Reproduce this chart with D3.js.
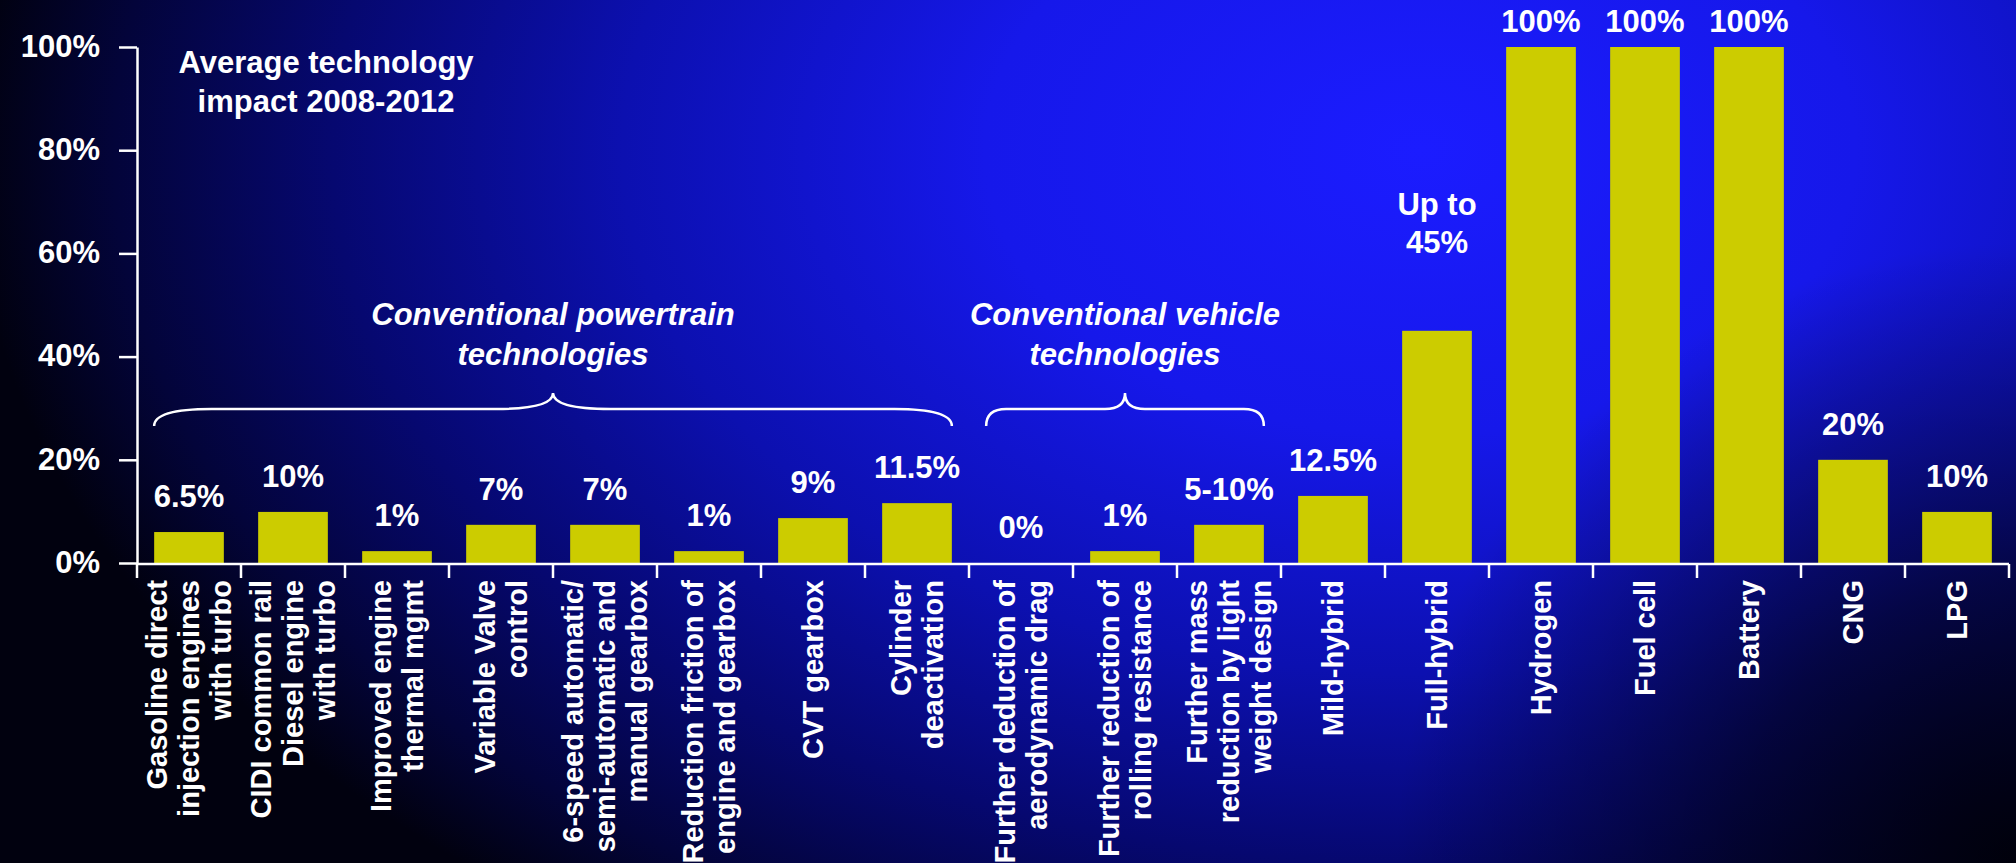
<!DOCTYPE html>
<html>
<head>
<meta charset="utf-8">
<script src="https://cdn.jsdelivr.net/npm/d3@7"></script>
<style>
    body { margin: 0; background: #000; }
    text { font-family: "Liberation Sans", Arial, sans-serif; font-weight: bold; fill: #fff; }
</style>
</head>
<body>
<div id="chart"></div>
<script>
// datos
const categoryLines = [
    ["Gasoline direct", "injection engines", "with turbo"],
    ["CIDI common rail", "Diesel engine", "with turbo"],
    ["Improved engine", "thermal mgmt"],
    ["Variable Valve", "control"],
    ["6-speed automatic/", "semi-automatic and", "manual gearbox"],
    ["Reduction friction of", "engine and gearbox"],
    ["CVT gearbox"],
    ["Cylinder", "deactivation"],
    ["Further deduction of", "aerodynamic drag"],
    ["Further reduction of", "rolling resistance"],
    ["Further mass", "reduction by light", "weight design"],
    ["Mild-hybrid"],
    ["Full-hybrid"],
    ["Hydrogen"],
    ["Fuel cell"],
    ["Battery"],
    ["CNG"],
    ["LPG"]
];
const impact = [0.06, 0.099, 0.023, 0.074, 0.074, 0.023, 0.087, 0.116, 0, 0.023, 0.074, 0.13, 0.45, 1, 1, 1, 0.2, 0.099];
const impactLabels = [["6.5%"], ["10%"], ["1%"], ["7%"], ["7%"], ["1%"], ["9%"], ["11.5%"], ["0%"], ["1%"], ["5-10%"],
    ["12.5%"], ["Up to", "45%"], ["100%"], ["100%"], ["100%"], ["20%"], ["10%"]];
const yTicks = [0, 0.2, 0.4, 0.6, 0.8, 1];
const titleLines = ["Average technology", "impact 2008-2012"];
const groupNames = [["Conventional powertrain", "technologies"], ["Conventional vehicle", "technologies"]];
const groupFirst = [0, 8];
const groupLast = [7, 10];

function grafica_barras() {
    const width = 2016, height = 863;
    const categories = categoryLines.map(l => l.join(" "));

    const svg = d3.select("#chart").append("svg")
        .attr("width", width)
        .attr("height", height);

    // fondo azul degradado
    const defs = svg.append("defs");
    const grad = defs.append("radialGradient")
        .attr("id", "fondo")
        .attr("gradientUnits", "userSpaceOnUse")
        .attr("cx", 1420).attr("cy", 150).attr("r", 1000)
        .attr("gradientTransform", "translate(1420,150) scale(1.45,0.95) translate(-1420,-150)");
    [[0, "#1b1cff"], [0.3, "#1618ea"], [0.55, "#0c10b0"], [0.75, "#060870"], [0.9, "#03043a"], [1, "#01010f"]]
        .forEach(s => grad.append("stop").attr("offset", s[0]).attr("stop-color", s[1]));
    svg.append("rect").attr("width", width).attr("height", height).attr("fill", "url(#fondo)");

    // esquina inferior derecha oscura
    const sombra = defs.append("radialGradient")
        .attr("id", "sombra")
        .attr("gradientUnits", "userSpaceOnUse")
        .attr("cx", 2016).attr("cy", 863).attr("r", 620);
    [[0, "#000008", 0.95], [0.45, "#000008", 0.6], [1, "#000008", 0]]
        .forEach(s => sombra.append("stop").attr("offset", s[0]).attr("stop-color", s[1]).attr("stop-opacity", s[2]));
    svg.append("rect").attr("width", width).attr("height", height).attr("fill", "url(#sombra)");

    const x = d3.scaleBand()
        .domain(categories)
        .range([137, 2009])
        .paddingInner(0.33)
        .paddingOuter(0.165);

    const y = d3.scaleLinear()
        .domain([0, 1])
        .range([563, 47]);

    // barras
    svg.append("g").selectAll("rect")
        .data(impact)
        .join("rect")
        .attr("x", (d, i) => x(categories[i]))
        .attr("width", x.bandwidth())
        .attr("y", d => y(d))
        .attr("height", d => y(0) - y(d))
        .attr("fill", "#cccc00");

    // eje y
    const yAxis = svg.append("g")
        .attr("transform", "translate(137,0)")
        .call(d3.axisLeft(y).tickValues(yTicks).tickFormat(d3.format(".0%")).tickSize(18).tickSizeOuter(0).tickPadding(19));
    yAxis.selectAll("path, line").attr("stroke", "#fff").attr("stroke-width", 2.5);
    yAxis.selectAll("text").attr("font-size", 31).attr("font-family", null).attr("fill", "#fff").attr("dy", "0.3em");

    // eje x con separadores
    const gap = x.step() - x.bandwidth();
    const bounds = categories.map(c => x(c) - gap / 2).concat([x(categories[categories.length - 1]) + x.bandwidth() + gap / 2]);
    const xAxis = svg.append("g").attr("stroke", "#fff").attr("stroke-width", 2.5);
    xAxis.append("line").attr("x1", bounds[0]).attr("x2", bounds[bounds.length - 1]).attr("y1", 564).attr("y2", 564);
    xAxis.selectAll("line.sep").data(bounds).join("line").attr("class", "sep")
        .attr("x1", d => d).attr("x2", d => d).attr("y1", 564).attr("y2", 578);

    // etiquetas de categorias (rotadas)
    const lineH = 32;
    const cat = svg.append("g").selectAll("g")
        .data(categoryLines)
        .join("g")
        .attr("transform", (d, i) => `translate(${x(categories[i]) + x.bandwidth() / 2},580) rotate(-90)`);
    cat.selectAll("text")
        .data(d => d.map((t, j) => ({ t, j, n: d.length })))
        .join("text")
        .attr("text-anchor", "end")
        .attr("font-size", 29)
        .attr("y", d => (d.j - (d.n - 1) / 2) * lineH)
        .attr("dy", "0.33em")
        .text(d => d.t);

    // etiquetas de valores (las de 2 lineas van mas arriba, las de 100% no salen del borde)
    const val = svg.append("g").selectAll("text")
        .data(impactLabels)
        .join("text")
        .attr("text-anchor", "middle")
        .attr("font-size", 31)
        .attr("x", (d, i) => x(categories[i]) + x.bandwidth() / 2)
        .attr("y", (d, i) => Math.max(32, y(impact[i]) - 25 - (d.length - 1) * 53) - (d.length - 1) * 38);
    val.selectAll("tspan")
        .data(d => d)
        .join("tspan")
        .attr("x", function () { return this.parentNode.getAttribute("x"); })
        .attr("dy", (d, j) => j ? 38 : 0)
        .text(d => d);

    // titulo
    svg.append("text")
        .attr("text-anchor", "middle")
        .attr("font-size", 31)
        .selectAll("tspan")
        .data(titleLines)
        .join("tspan")
        .attr("x", 326)
        .attr("y", (d, i) => 73 + i * 39)
        .text(d => d);

    // llaves de grupos
    const brace = (xa, xb) => {
        const xm = (xa + xb) / 2, c = (xb - xa) * 0.072;
        const yE = 426, yL = 409, yT = 393;
        return `M${xa},${yE} Q${xa},${yL} ${xa + c},${yL} L${xm - c},${yL} Q${xm},${yL} ${xm},${yT}` +
            ` Q${xm},${yL} ${xm + c},${yL} L${xb - c},${yL} Q${xb},${yL} ${xb},${yE}`;
    };
    groupNames.forEach((g, k) => {
        const xa = x(categories[groupFirst[k]]);
        const xb = x(categories[groupLast[k]]) + x.bandwidth();
        svg.append("path")
            .attr("d", brace(xa, xb))
            .attr("fill", "none")
            .attr("stroke", "#fff")
            .attr("stroke-width", 2.5);
        svg.append("text")
            .attr("text-anchor", "middle")
            .attr("font-size", 31)
            .attr("font-style", "italic")
            .selectAll("tspan")
            .data(g)
            .join("tspan")
            .attr("x", (xa + xb) / 2)
            .attr("y", (d, i) => 325 + i * 40)
            .text(d => d);
    });
}

grafica_barras();
</script>
</body>
</html>
